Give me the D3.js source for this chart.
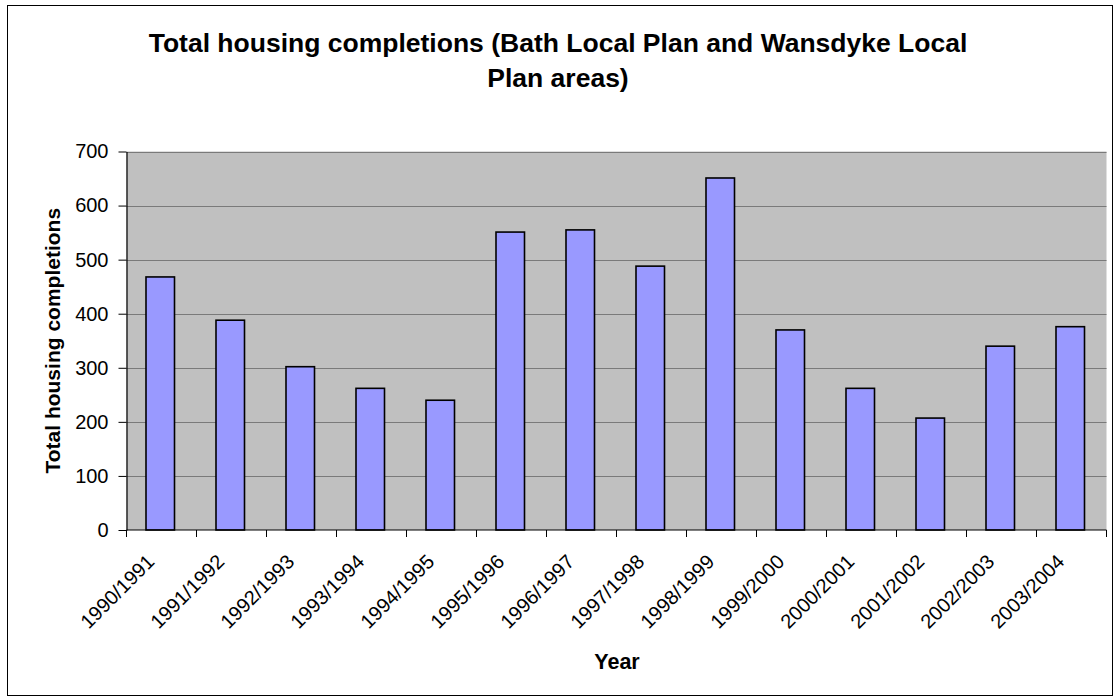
<!DOCTYPE html>
<html>
<head>
<meta charset="utf-8">
<script src="https://cdn.jsdelivr.net/npm/d3@7"></script>
<style>
  html, body { margin: 0; padding: 0; background: #fff; }
  svg { display: block; font-family: Arial, "Liberation Sans", sans-serif; }
</style>
</head>
<body>
<svg id="chart" width="1114" height="697"></svg>
<script>
const categories = ["1990/1991","1991/1992","1992/1993","1993/1994","1994/1995","1995/1996","1996/1997","1997/1998","1998/1999","1999/2000","2000/2001","2001/2002","2002/2003","2003/2004"];
const completions = [468, 388, 302, 262, 240, 551, 555, 488, 651, 370, 262, 207, 340, 376];
const yTicks = [0, 100, 200, 300, 400, 500, 600, 700];
const titleLines = ["Total housing completions (Bath Local Plan and Wansdyke Local", "Plan areas)"];
const yAxisTitle = "Total housing completions";
const xAxisTitle = "Year";

const svg = d3.select("#chart");
const plot = { left: 126.5, right: 1106.5, top: 151.5, bottom: 530 };

// chart area border
svg.append("rect")
  .attr("x", 7.5).attr("y", 5.5)
  .attr("width", 1105).attr("height", 690)
  .attr("fill", "#fff").attr("stroke", "#000").attr("stroke-width", 1);

const xb = d3.scaleBand().domain(categories).range([plot.left, plot.right]);
const y = d3.scaleLinear().domain([0, 700]).range([plot.bottom, plot.top]);

// plot background
svg.append("rect")
  .attr("x", plot.left).attr("y", plot.top)
  .attr("width", plot.right - plot.left).attr("height", plot.bottom - plot.top)
  .attr("fill", "#c0c0c0");

// gridlines
svg.append("g").selectAll("line").data(yTicks.filter(d => d > 0)).join("line")
  .attr("x1", plot.left).attr("x2", plot.right)
  .attr("y1", d => Math.round(y(d)) + 0.5).attr("y2", d => Math.round(y(d)) + 0.5)
  .attr("stroke", "#7a7a7a").attr("stroke-width", 1.2);

// bars
svg.append("g").selectAll("rect").data(completions).join("rect")
  .attr("x", (d, i) => xb(categories[i]) + 19.5)
  .attr("width", 28.5)
  .attr("y", d => y(d))
  .attr("height", d => plot.bottom - y(d))
  .attr("fill", "#9999ff")
  .attr("stroke", "#000").attr("stroke-width", 1.6);

// y axis
const yAxis = d3.axisLeft(y).tickValues(yTicks).tickSize(8).tickPadding(10).tickSizeOuter(0);
const gy = svg.append("g").attr("transform", `translate(${plot.left},0)`).call(yAxis);
gy.select(".domain").attr("stroke", "#000").attr("stroke-width", 1.2);
gy.selectAll(".tick line").attr("stroke", "#000");
gy.selectAll(".tick text").attr("font-size", 20).attr("fill", "#000").attr("font-family", "Arial, 'Liberation Sans', sans-serif");

// x axis: ticks at category boundaries
const gx = svg.append("g").attr("transform", `translate(0,${plot.bottom})`);
gx.append("line").attr("x1", plot.left).attr("x2", plot.right).attr("y1", 0).attr("y2", 0)
  .attr("stroke", "#000").attr("stroke-width", 1.2);
const bounds = categories.map(c => xb(c)).concat([plot.right]);
gx.selectAll("line.tk").data(bounds).join("line").attr("class", "tk")
  .attr("x1", d => d).attr("x2", d => d).attr("y1", 0).attr("y2", 7)
  .attr("stroke", "#000");
gx.selectAll("text").data(categories).join("text")
  .attr("transform", d => `translate(${xb(d) + xb.bandwidth() / 2 - 6},33) rotate(-45)`)
  .attr("text-anchor", "end")
  .attr("font-size", 20)
  .attr("fill", "#000")
  .text(d => d);

// title
svg.append("g").selectAll("text").data(titleLines).join("text")
  .attr("x", 558).attr("y", (d, i) => 52 + i * 35)
  .attr("text-anchor", "middle")
  .attr("font-size", 26.5).attr("font-weight", "bold")
  .text(d => d);

// axis titles
svg.append("text")
  .attr("transform", `translate(60,${(plot.top + plot.bottom) / 2}) rotate(-90)`)
  .attr("text-anchor", "middle")
  .attr("font-size", 21).attr("font-weight", "bold")
  .text(yAxisTitle);

svg.append("text")
  .attr("x", 617).attr("y", 669)
  .attr("text-anchor", "middle")
  .attr("font-size", 21.5).attr("font-weight", "bold")
  .text(xAxisTitle);
</script>
</body>
</html>
